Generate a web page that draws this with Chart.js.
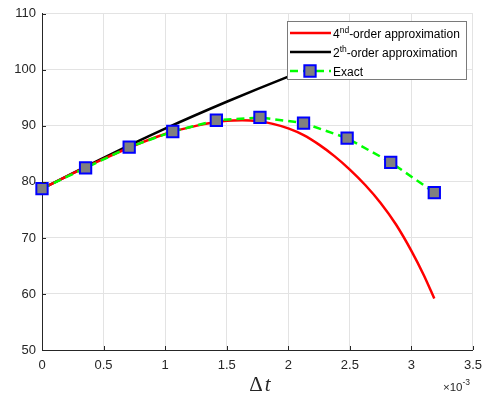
<!DOCTYPE html>
<html>
<head>
<meta charset="utf-8">
<script src="https://cdn.jsdelivr.net/npm/chart.js@4.4.0/dist/chart.umd.min.js"></script>
<style>
  html, body { margin: 0; padding: 0; background: #fff; }
  #wrap { width: 490px; height: 400px; }
</style>
</head>
<body>
<div id="wrap"><canvas id="chart"></canvas></div>
<script>
// Time step values are in units of 1e-3 (the axis carries a x10^-3 multiplier)
const exactT = [0, 0.354, 0.708, 1.062, 1.416, 1.77, 2.124, 2.478, 2.832, 3.186];
const exactV = [78.8, 82.5, 86.2, 89.0, 91.0, 91.5, 90.5, 87.8, 83.5, 78.1];

const fourthT = [0, 0.25, 0.5, 0.75, 1.0, 1.25, 1.5, 1.625, 1.75, 1.875, 2.0, 2.125,
                 2.25, 2.375, 2.5, 2.625, 2.75, 2.875, 3.0, 3.1, 3.186];
const fourthV = [78.8, 81.5, 84.1, 86.5, 88.55, 90.0, 90.9, 91.0, 90.85, 90.35, 89.55, 88.35,
                 86.65, 84.6, 82.2, 79.45, 76.25, 72.4, 67.7, 63.4, 59.2];

const secondT = [0, 0.5, 1.0, 1.5, 2.0, 2.5, 3.0, 3.186];
const secondV = [78.8, 84.3, 89.5, 94.3, 98.8, 103.0, 106.7, 108.1];

const xTicks = [0, 0.5, 1, 1.5, 2, 2.5, 3, 3.5];
const yTicks = [50, 60, 70, 80, 90, 100, 110];

const seriesNames = ['4^nd-order approximation', '2^th-order approximation', 'Exact'];

const FONT = '"Liberation Sans", Arial, sans-serif';
const AXIS_COLOR = '#262626';

function toPoints(ts, vs) {
    return ts.map((t, i) => ({ x: t, y: vs[i] }));
}

// Split "4^nd-order" into normal / superscript parts
function labelParts(label) {
    const m = label.match(/^(.*?)\^(\w+)(.*)$/);
    if (!m) return [{ text: label, sup: false }];
    return [{ text: m[1], sup: false }, { text: m[2], sup: true }, { text: m[3], sup: false }];
}

// Inward tick marks, axis multiplier, x title and the boxed legend
const decorPlugin = {
    id: 'decor',
    afterDraw(chart) {
        const ctx = chart.ctx;
        const ca = chart.chartArea;
        const xs = chart.scales.x;
        const ys = chart.scales.y;
        ctx.save();

        // tick marks pointing into the plot
        ctx.strokeStyle = AXIS_COLOR;
        ctx.lineWidth = 1;
        xTicks.forEach(v => {
            const px = Math.round(xs.getPixelForValue(v)) + 0.5;
            ctx.beginPath();
            ctx.moveTo(px, ca.bottom);
            ctx.lineTo(px, ca.bottom - 4);
            ctx.stroke();
        });
        yTicks.forEach(v => {
            const py = Math.round(ys.getPixelForValue(v)) + 0.5;
            ctx.beginPath();
            ctx.moveTo(ca.left, py);
            ctx.lineTo(ca.left + 4, py);
            ctx.stroke();
        });

        // x axis title
        ctx.fillStyle = AXIS_COLOR;
        ctx.textBaseline = 'alphabetic';
        ctx.textAlign = 'left';
        ctx.font = '21px "Liberation Serif", serif';
        const wD = ctx.measureText('\u0394').width;
        ctx.font = 'italic 21px "Liberation Serif", serif';
        const wT = ctx.measureText('t').width;
        const x0 = 260 - (wD + wT + 2) / 2;
        ctx.font = '21px "Liberation Serif", serif';
        ctx.fillText('\u0394', x0, 391);
        ctx.font = 'italic 21px "Liberation Serif", serif';
        ctx.fillText('t', x0 + wD + 2, 391);

        // exponent multiplier
        ctx.font = '11.5px ' + FONT;
        ctx.fillText('\u00d710', 443, 391);
        const w10 = ctx.measureText('\u00d710').width;
        ctx.font = '8.5px ' + FONT;
        ctx.fillText('-3', 443 + w10, 385);

        // legend
        const lx = 287, ly = 21, lw = 179, lh = 58;
        ctx.fillStyle = '#ffffff';
        ctx.fillRect(lx, ly, lw, lh);
        ctx.strokeStyle = '#7a7a7a';
        ctx.lineWidth = 1;
        ctx.strokeRect(lx + 0.5, ly + 0.5, lw, lh);

        const legendOrder = [0, 1, 2];
        const rowY = [33, 52, 71];
        legendOrder.forEach((di, row) => {
            const ds = chart.data.datasets[di];
            const y = rowY[row];
            ctx.save();
            ctx.strokeStyle = ds.borderColor;
            ctx.lineWidth = ds.borderWidth;
            ctx.setLineDash(ds.borderDash || []);
            ctx.beginPath();
            ctx.moveTo(290, y);
            ctx.lineTo(331, y);
            ctx.stroke();
            ctx.restore();
            if (ds.pointRadius > 0) {
                ctx.save();
                ctx.fillStyle = ds.pointBackgroundColor;
                ctx.strokeStyle = ds.pointBorderColor;
                ctx.lineWidth = ds.pointBorderWidth;
                const s = ds.pointRadius * Math.SQRT1_2;
                ctx.beginPath();
                ctx.rect(310 - s, y - s, 2 * s, 2 * s);
                ctx.fill();
                ctx.stroke();
                ctx.restore();
            }
            let tx = 333;
            ctx.fillStyle = '#000000';
            labelParts(ds.label).forEach(p => {
                if (p.sup) {
                    ctx.font = '8.5px ' + FONT;
                    ctx.fillText(p.text, tx, y);
                } else {
                    ctx.font = '12px ' + FONT;
                    ctx.fillText(p.text, tx, y + 5);
                }
                tx += ctx.measureText(p.text).width;
            });
        });

        ctx.restore();
    }
};

const ctx = document.getElementById('chart').getContext('2d');
new Chart(ctx, {
    type: 'line',
    data: {
        datasets: [
            {
                label: seriesNames[0],
                data: toPoints(fourthT, fourthV),
                borderColor: '#ff0000',
                borderWidth: 2.5,
                pointRadius: 0,
                cubicInterpolationMode: 'monotone',
                order: 2
            },
            {
                label: seriesNames[1],
                data: toPoints(secondT, secondV),
                borderColor: '#000000',
                borderWidth: 2.5,
                pointRadius: 0,
                cubicInterpolationMode: 'monotone',
                order: 3
            },
            {
                label: seriesNames[2],
                data: toPoints(exactT, exactV),
                borderColor: '#00ff00',
                borderWidth: 2.5,
                borderDash: [8, 5],
                pointStyle: 'rect',
                pointRadius: 8,
                pointBackgroundColor: '#808080',
                pointBorderColor: '#0000ff',
                pointBorderWidth: 2,
                tension: 0,
                clip: false,
                order: 1
            }
        ]
    },
    options: {
        responsive: true,
        maintainAspectRatio: false,
        animation: false,
        devicePixelRatio: 1,
        layout: { padding: { left: 0, right: 13, top: 12, bottom: 0 } },
        plugins: {
            legend: { display: false },
            tooltip: { enabled: false }
        },
        scales: {
            x: {
                type: 'linear',
                min: 0,
                max: 3.5,
                afterBuildTicks: s => { s.ticks = xTicks.map(v => ({ value: v })); },
                afterFit: s => { s.height = 50; },
                grid: { color: '#e3e3e3', drawTicks: false },
                border: { display: true, color: AXIS_COLOR, width: 1 },
                ticks: {
                    color: AXIS_COLOR,
                    padding: 8,
                    maxRotation: 0,
                    font: { family: FONT, size: 13 },
                    callback: v => String(v)
                }
            },
            y: {
                type: 'linear',
                min: 50,
                max: 110,
                afterBuildTicks: s => { s.ticks = yTicks.map(v => ({ value: v })); },
                afterFit: s => { s.width = 42; },
                grid: { color: '#e3e3e3', drawTicks: false },
                border: { display: true, color: AXIS_COLOR, width: 1 },
                ticks: {
                    color: AXIS_COLOR,
                    padding: 6,
                    font: { family: FONT, size: 13 },
                    callback: v => String(v)
                }
            }
        }
    },
    plugins: [decorPlugin]
});
</script>
</body>
</html>
